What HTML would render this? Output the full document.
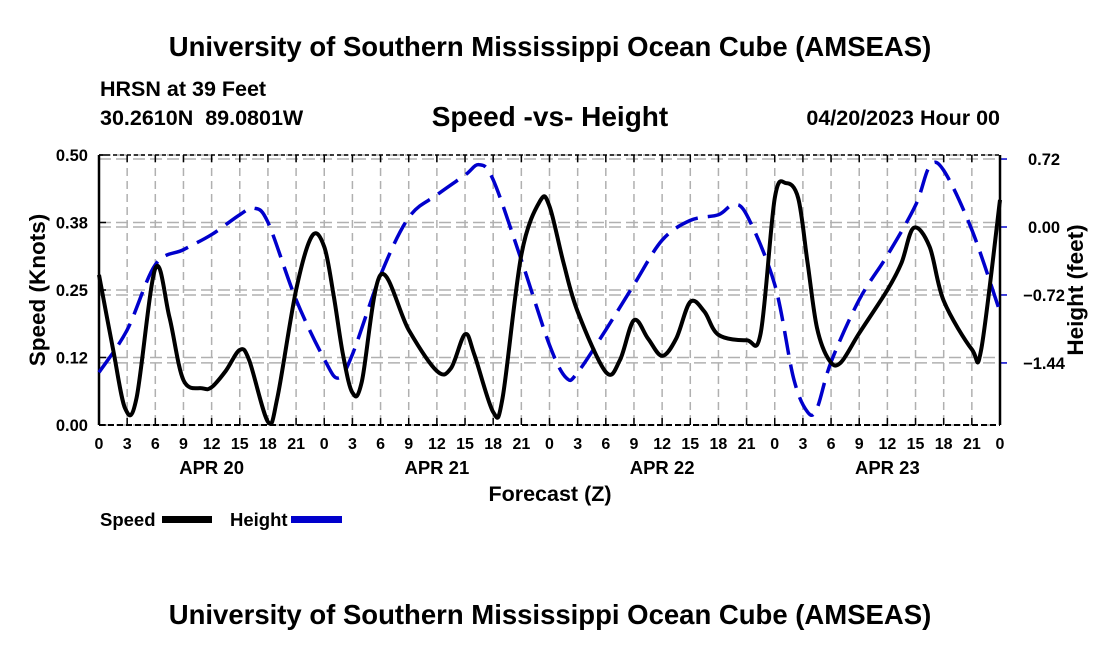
<!DOCTYPE html>
<html><head><meta charset="utf-8"><style>
body{margin:0;background:#fff;font-family:"Liberation Sans",Arial,sans-serif}
svg{display:block}
text{font-family:"Liberation Sans",Arial,sans-serif;font-weight:bold;fill:#000}
</style></head><body>
<svg id="c" width="1100" height="650" viewBox="0 0 1100 650">
<text x="550" y="56" font-size="27.5" text-anchor="middle">University of Southern Mississippi Ocean Cube (AMSEAS)</text>
<text x="100" y="96" font-size="21.5">HRSN at 39 Feet</text>
<text x="100" y="125" font-size="21.5" xml:space="preserve">30.2610N  89.0801W</text>
<text x="550" y="126" font-size="28" text-anchor="middle">Speed -vs- Height</text>
<text x="1000" y="125" font-size="21.5" text-anchor="end">04/20/2023 Hour 00</text>
<g id="grid"></g><g id="axes"></g><g id="series"></g>
<text transform="translate(45,290) rotate(-90)" font-size="22.5" text-anchor="middle">Speed (Knots)</text>
<text transform="translate(1083,290) rotate(-90)" font-size="22.5" text-anchor="middle">Height (feet)</text>
<text x="550" y="501" font-size="21.5" text-anchor="middle">Forecast (Z)</text>
<g>
<text x="100" y="526" font-size="18.5">Speed</text>
<rect x="162" y="516" width="50" height="7" fill="#000"/>
<text x="230" y="526" font-size="18.5">Height</text>
<rect x="291" y="516" width="51" height="7" fill="#00c"/>
</g>
<text x="550" y="624" font-size="27.5" text-anchor="middle">University of Southern Mississippi Ocean Cube (AMSEAS)</text>
</svg>
<script>
const speedHours=[0,1.5,2.8,4,6,7.5,9,11,12,13.5,15,16,18,19,21,22.7,24,25,26,27,28,30,33,36,37.5,39,40,42,43,45,47,48,49.5,51,54,55.5,57,58.5,60,61.5,63,64.5,66,69,70.5,72,73.2,74.5,75.5,76.5,77.8,79,81,84,85.5,86.8,88.5,90,93,94,96];
const speedVals=[0.278,0.14,0.03,0.05,0.29,0.2,0.083,0.068,0.07,0.1,0.139,0.12,0.006,0.05,0.25,0.35,0.33,0.24,0.13,0.06,0.08,0.278,0.176,0.10,0.105,0.168,0.13,0.024,0.05,0.315,0.415,0.405,0.30,0.21,0.098,0.12,0.194,0.16,0.128,0.16,0.228,0.21,0.167,0.157,0.17,0.42,0.448,0.42,0.30,0.18,0.12,0.115,0.17,0.25,0.30,0.365,0.33,0.23,0.14,0.14,0.417];
const heightHours=[0,3,6,9,12,15,16.5,18,21,24,25.5,27,30,33,36,39,40.5,42,45,48,49.8,51,54,57,60,63,66,67.5,69,72,74,75.5,76.5,78,81,84,87,88.5,90,93,96];
const heightVals=[-1.54,-1.09,-0.40,-0.24,-0.08,0.13,0.20,0.05,-0.77,-1.40,-1.60,-1.35,-0.51,0.10,0.34,0.55,0.66,0.50,-0.35,-1.25,-1.60,-1.54,-1.09,-0.61,-0.14,0.07,0.13,0.23,0.13,-0.61,-1.60,-1.96,-1.92,-1.43,-0.77,-0.30,0.23,0.64,0.60,-0.03,-0.90];
const speedTicks=[0,0.125,0.25,0.375,0.5], speedTickLabels=["0.00","0.12","0.25","0.38","0.50"];
const heightTicks=[-1.44,-0.72,0,0.72], heightTickLabels=["\u22121.44","\u22120.72","0.00","0.72"];
const dayLabels=["APR 20","APR 21","APR 22","APR 23"];
const X0=99,X1=1000,Y0=425,Y1=155;
const xs=h=>X0+(X1-X0)*h/96;
const ys=v=>Y0-(Y0-Y1)*v/0.5;
const yh=v=>227-v*94.4;
const NS="http://www.w3.org/2000/svg";
function mk(tag,attrs,parent,txt){const e=document.createElementNS(NS,tag);for(const k in attrs)e.setAttribute(k,attrs[k]);if(txt!==undefined)e.textContent=txt;parent.appendChild(e);return e;}
const grid=document.getElementById('grid'),axes=document.getElementById('axes'),ser=document.getElementById('series');
for(let h=0;h<=96;h+=3){const x=xs(h);
 const g=mk('line',{x1:x,y1:Y1,x2:x,y2:Y0,stroke:'#b0b0b0','stroke-width':1.5,'stroke-dasharray':'8,5'},grid);
 
 mk('line',{x1:x,y1:Y0,x2:x,y2:Y0-7,stroke:'#000','stroke-width':1.5},axes);
 mk('line',{x1:x,y1:Y1,x2:x,y2:Y1+7,stroke:'#000','stroke-width':1.5},axes);
 const t=mk('text',{x:x,y:449,'font-size':16,'text-anchor':'middle'},axes,String(h%24));
 }
dayLabels.forEach((d,i)=>{const t=mk('text',{x:xs(12+24*i),y:474,'font-size':18.5,'text-anchor':'middle'},axes,d);
 });
speedTicks.forEach((v,i)=>{const y=ys(v);
 const g=mk('line',{x1:X0,y1:y,x2:X1,y2:y,stroke:'#b0b0b0','stroke-width':1.5,'stroke-dasharray':'12,5'},grid);
 
 mk('line',{x1:X0,y1:y,x2:X0+7,y2:y,stroke:'#000','stroke-width':1.5},axes);
 const t=mk('text',{x:88,y:y+6,'font-size':16.5,'text-anchor':'end'},axes,speedTickLabels[i]);
 });
heightTicks.forEach((v,i)=>{const y=yh(v);
 const g=mk('line',{x1:X0,y1:y,x2:X1,y2:y,stroke:'#b0b0b0','stroke-width':1.5,'stroke-dasharray':'12,5'},grid);
 
 mk('line',{x1:X1,y1:y,x2:X1+7,y2:y,stroke:'#00c','stroke-width':1.5},axes);
 const t=mk('text',{x:1044,y:y+6,'font-size':16.5,'text-anchor':'middle'},axes,heightTickLabels[i]);
 });
mk('line',{x1:X0,y1:Y1,x2:X1,y2:Y1,stroke:'#000','stroke-width':1.5,'stroke-dasharray':'4,3'},axes);
mk('line',{x1:X0,y1:Y0,x2:X1,y2:Y0,stroke:'#000','stroke-width':2,'stroke-dasharray':'6,3'},axes);
mk('line',{x1:X0,y1:Y1,x2:X0,y2:Y0,stroke:'#000','stroke-width':2.5},axes);
mk('line',{x1:X1,y1:Y1,x2:X1,y2:Y0,stroke:'#000','stroke-width':2.5},axes);
function path(hs,vs,fy){const p=hs.map((h,i)=>[xs(h),fy(vs[i])]);let d='M'+p[0][0]+','+p[0][1];
 for(let i=0;i<p.length-1;i++){const a=p[Math.max(0,i-1)],b=p[i],c=p[i+1],e=p[Math.min(p.length-1,i+2)];
 d+=` C${b[0]+(c[0]-a[0])/6},${b[1]+(c[1]-a[1])/6} ${c[0]-(e[0]-b[0])/6},${c[1]-(e[1]-b[1])/6} ${c[0]},${c[1]}`;}return d;}
const hp=mk('path',{d:path(heightHours,heightVals,yh),fill:'none',stroke:'#00c','stroke-width':3.5,'stroke-dasharray':'24,10'},ser);

const sp=mk('path',{d:path(speedHours,speedVals,ys),fill:'none',stroke:'#000','stroke-width':4,'stroke-linejoin':'round'},ser);

</script>
</body></html>
